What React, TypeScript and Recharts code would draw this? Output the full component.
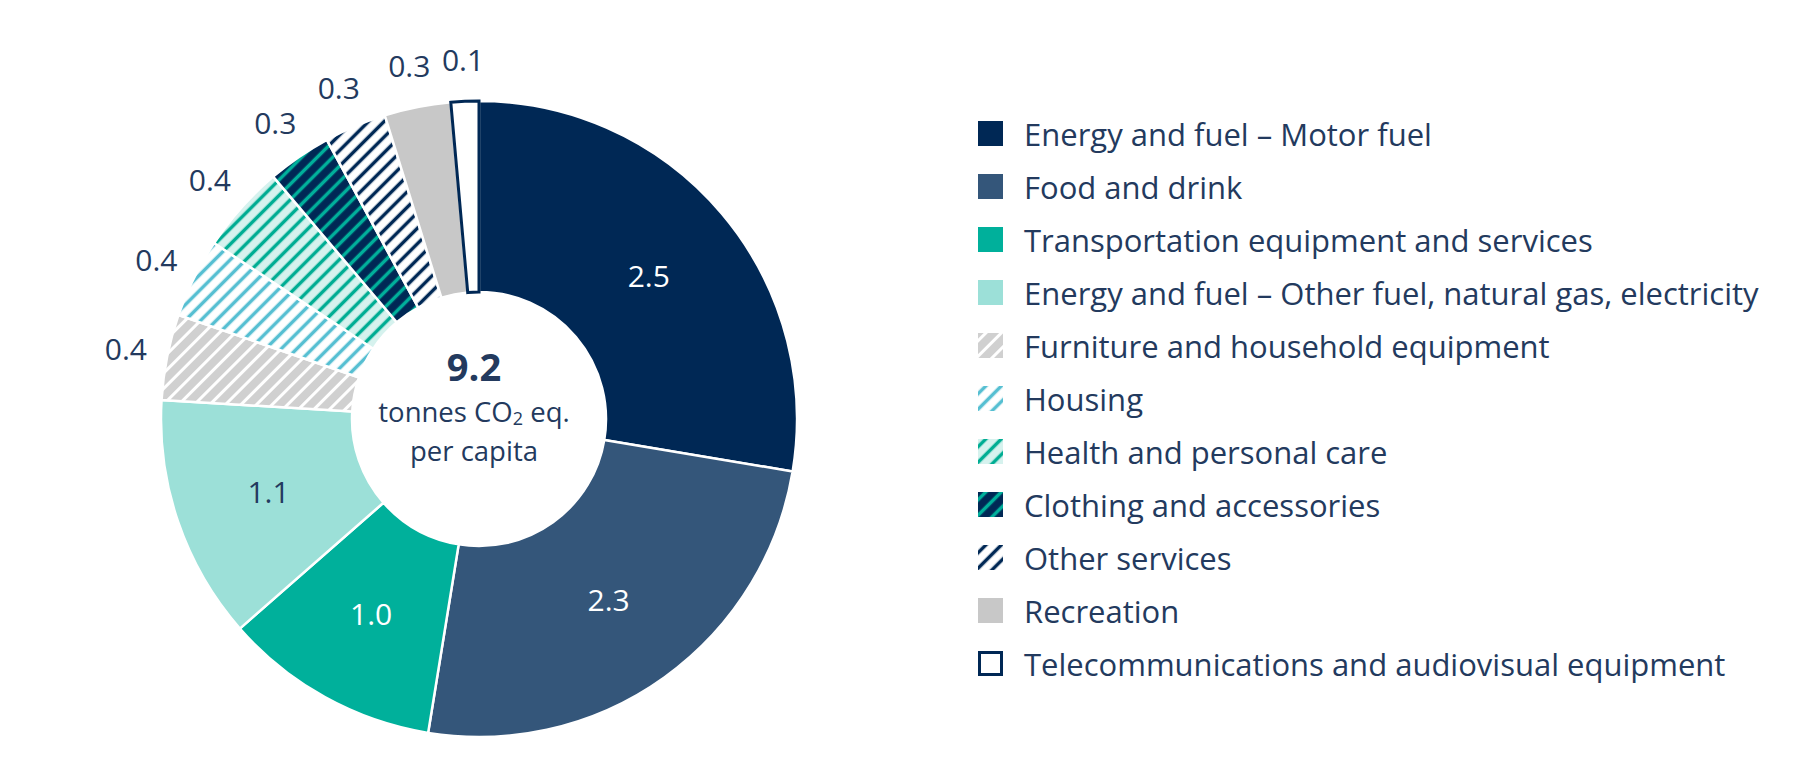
import React from 'react';
import { PieChart, Pie, Cell, Legend } from 'recharts';

const categories = [
  'Energy and fuel – Motor fuel',
  'Food and drink',
  'Transportation equipment and services',
  'Energy and fuel – Other fuel, natural gas, electricity',
  'Furniture and household equipment',
  'Housing',
  'Health and personal care',
  'Clothing and accessories',
  'Other services',
  'Recreation',
  'Telecommunications and audiovisual equipment',
];
// tonnes CO2 eq. per capita
const values = [2.54, 2.29, 1.01, 1.14, 0.4, 0.37, 0.41, 0.3, 0.29, 0.31, 0.13];
const totalLabel = '9.2';

const NAVY = '#002855';
const TEXT = '#233a5e';
const FONT = '"Open Sans", sans-serif';

const fills = [
  NAVY,
  '#34567a',
  '#00b09b',
  '#9ce0d8',
  'url(#pFurniture)',
  'url(#pHousing)',
  'url(#pHealth)',
  'url(#pClothing)',
  'url(#pOther)',
  '#c8c8c8',
  '#ffffff',
];

const stripes = [
  { id: 'pFurniture', bg: '#d0d0d0', line: '#ffffff', w: 3 },
  { id: 'pHousing', bg: '#ffffff', line: '#56bfd2', w: 3.5 },
  { id: 'pHealth', bg: '#d6f2ee', line: '#00ad93', w: 3.5 },
  { id: 'pClothing', bg: NAVY, line: '#00b09b', w: 3.5 },
  { id: 'pOther', bg: '#ffffff', line: NAVY, w: 3.5 },
];

const data = categories.map((name, i) => ({ name, value: values[i] }));

const RADIAN = Math.PI / 180;

const renderLabel = (props: any) => {
  const { cx, cy, midAngle, innerRadius, outerRadius, index } = props;
  const v = values[index];
  const inside = v >= 1;
  const r = inside ? (innerRadius + outerRadius) / 2 : outerRadius + 42;
  const x = cx + r * Math.cos(-midAngle * RADIAN);
  const y = cy + r * Math.sin(-midAngle * RADIAN);
  const color = inside && index !== 3 ? '#ffffff' : TEXT;
  return (
    <text
      x={x}
      y={y}
      fill={color}
      textAnchor="middle"
      dominantBaseline="central"
      fontFamily={FONT}
      fontSize={30}
    >
      {v.toFixed(1)}
    </text>
  );
};

const LegendContent = () => (
  <div style={{ fontFamily: FONT }}>
    {categories.map((name, i) => (
      <div key={name} style={{ display: 'flex', alignItems: 'center', height: 53 }}>
        <svg width={25} height={25} style={{ marginRight: 21, flexShrink: 0 }}>
          <rect
            x={i === 10 ? 1.5 : 0}
            y={i === 10 ? 1.5 : 0}
            width={i === 10 ? 22 : 25}
            height={i === 10 ? 22 : 25}
            fill={fills[i]}
            stroke={i === 10 ? NAVY : 'none'}
            strokeWidth={i === 10 ? 3 : 0}
          />
        </svg>
        <span style={{ fontSize: 31, color: TEXT, whiteSpace: 'nowrap' }}>{name}</span>
      </div>
    ))}
  </div>
);

const centerLine = (top: number, height: number): React.CSSProperties => ({
  position: 'absolute',
  left: 474 - 150,
  top,
  width: 300,
  height,
  lineHeight: `${height}px`,
  textAlign: 'center',
  fontFamily: FONT,
  color: TEXT,
});

export default function App() {
  return (
    <div style={{ position: 'absolute', left: 0, top: 0, width: 1813, height: 769, background: '#fff' }}>
      <svg width={0} height={0} style={{ position: 'absolute' }}>
        <defs>
          {stripes.map((s) => (
            <pattern
              key={s.id}
              id={s.id}
              patternUnits="userSpaceOnUse"
              width={11}
              height={11}
              patternTransform="rotate(45)"
            >
              <rect width={11} height={11} fill={s.bg} />
              <line x1={5.5} y1={0} x2={5.5} y2={11} stroke={s.line} strokeWidth={s.w} />
            </pattern>
          ))}
        </defs>
      </svg>
      <PieChart width={1813} height={769}>
        <Pie
          data={data}
          dataKey="value"
          nameKey="name"
          cx={474}
          cy={414}
          innerRadius={127}
          outerRadius={318}
          startAngle={90}
          endAngle={-270}
          stroke="#ffffff"
          strokeWidth={2.5}
          label={renderLabel}
          labelLine={false}
          isAnimationActive={false}
        >
          {data.map((d, i) => (
            <Cell
              key={d.name}
              fill={fills[i]}
              stroke={i === 10 ? NAVY : '#ffffff'}
              strokeWidth={i === 10 ? 3 : 2.5}
            />
          ))}
        </Pie>
        <Legend
          content={<LegendContent />}
          wrapperStyle={{ position: 'absolute', left: 978, top: 107, width: 820 }}
        />
      </PieChart>
      <div style={{ ...centerLine(340, 52), fontSize: 38, fontWeight: 700 }}>{totalLabel}</div>
      <div style={{ ...centerLine(393, 38), fontSize: 27.5 }}>
        tonnes CO<span style={{ fontSize: 18, position: 'relative', top: 3 }}>2</span> eq.
      </div>
      <div style={{ ...centerLine(432, 38), fontSize: 27.5 }}>per capita</div>
    </div>
  );
}
